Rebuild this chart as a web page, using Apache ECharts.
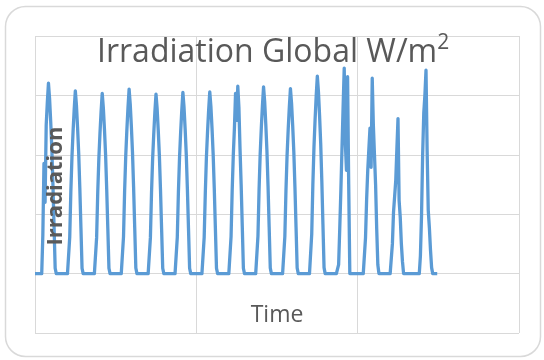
<!DOCTYPE html>
<html>
<head>
<meta charset="utf-8">
<script src="https://cdn.jsdelivr.net/npm/echarts@6/dist/echarts.min.js"></script>
<style>
  html, body { margin: 0; padding: 0; background: #fff; }
  #chart { width: 544px; height: 360px; }
</style>
</head>
<body>
<div id="chart"></div>
<script>
// hourly global irradiation, one row of 24 hours per day (W/m2)
const day01 = [0,0,0,0,0,0,0,130,371,240,500,577,641,590,513,423,301,160,18,0,0,0,0,0];
const day02 = [0,0,0,0,0,0,0,123,277,394,480,554,615,566,492,406,289,154,18,0,0,0,0,0];
const day03 = [0,0,0,0,0,0,0,121,273,388,473,546,607,558,486,401,285,152,18,0,0,0,0,0];
const day04 = [0,0,0,0,0,0,0,124,279,397,484,559,621,571,497,410,292,155,19,0,0,0,0,0];
const day05 = [0,0,0,0,0,0,0,121,272,387,471,544,604,556,483,399,284,151,18,0,0,0,0,0];
const day06 = [0,0,0,0,0,0,0,122,275,390,476,549,610,561,488,403,287,153,18,0,0,0,0,0];
const day07 = [0,0,0,0,0,0,0,122,270,392,477,551,612,563,490,404,288,153,18,0,0,0,0,0];
const day08 = [0,0,0,0,0,0,0,125,280,400,490,607,516,631,560,420,300,160,18,0,0,0,0,0];
const day09 = [0,0,0,0,0,0,0,126,283,403,491,566,629,579,503,415,296,157,19,0,0,0,0,0];
const day10 = [0,0,0,0,0,0,0,125,280,399,486,561,623,573,498,411,293,156,19,0,0,0,0,0];
const day11 = [0,0,0,0,0,0,0,133,299,426,519,599,665,612,532,439,313,166,20,0,0,0,0,0];
const day12 = [0,0,0,0,0,0,0,30,150,280,420,560,692,440,348,663,300,0,0,0,0,0,0,0];
const day13 = [0,0,0,0,0,0,0,120,250,348,420,490,358,658,500,400,300,150,30,0,0,0,0,0];
const day14 = [0,0,0,0,0,0,0,100,207,260,314,420,522,246,190,100,40,0,0,0,0,0,0,0];
const day15 = [0,0,0,0,0,0,0,0,60,196,400,540,600,685,415,213,155,80,20,0,0,0,0,0];

const days = [day01, day02, day03, day04, day05, day06, day07, day08,
              day09, day10, day11, day12, day13, day14, day15];

const irradiation = [].concat(...days);
const seriesData = irradiation.map((v, i) => [i, v]);

const textColor = '#595959';
const gridColor = '#d9d9d9';
const font = 'Open Sans';

let myChart = echarts.init(document.getElementById('chart'));

myChart.setOption({
    animation: false,
    backgroundColor: '#fff',
    title: {
        text: '{a|Irradiation Global W/m}{b|2}',
        left: 92,
        top: 28,
        textStyle: {
            fontWeight: 'normal',
            rich: {
                a: { fontSize: 32, fontWeight: 'normal', color: textColor, fontFamily: font, lineHeight: 40 },
                b: { fontSize: 21, fontWeight: 'normal', color: textColor, fontFamily: font, lineHeight: 26, verticalAlign: 'top' }
            }
        }
    },
    graphic: [
        {
            type: 'rect',
            shape: { x: 5.5, y: 6.5, width: 535, height: 350, r: 20 },
            style: { fill: 'none', stroke: gridColor, lineWidth: 1.5 },
            silent: true
        },
        {
            // y axis title sits on top of the line, like the original
            type: 'text',
            x: 56,
            y: 186,
            rotation: Math.PI / 2,
            z: 100,
            style: {
                text: 'Irradiation',
                x: 0,
                y: 0,
                align: 'center',
                verticalAlign: 'middle',
                font: 'bold 22px "Open Sans"',
                fill: textColor
            }
        }
    ],
    grid: { left: 35, right: 25, top: 36, bottom: 27 },
    xAxis: {
        type: 'value',
        min: 0,
        max: 432,
        interval: 144,
        name: 'Time',
        nameLocation: 'middle',
        nameGap: -29,
        nameTextStyle: { fontSize: 23, color: textColor, fontFamily: font },
        axisLine: { show: false },
        axisTick: { show: false },
        axisLabel: { show: false },
        splitLine: { show: true, lineStyle: { color: gridColor, width: 1 } }
    },
    yAxis: {
        type: 'value',
        min: -200,
        max: 800,
        interval: 200,
        axisLine: { show: false },
        axisTick: { show: false },
        axisLabel: { show: false },
        splitLine: { show: true, lineStyle: { color: gridColor, width: 1 } }
    },
    series: [
        {
            name: 'Irradiation',
            type: 'line',
            data: seriesData,
            showSymbol: false,
            lineStyle: { color: '#5b9bd5', width: 3.3, join: 'round' },
            itemStyle: { color: '#5b9bd5' }
        }
    ]
});
</script>
</body>
</html>
